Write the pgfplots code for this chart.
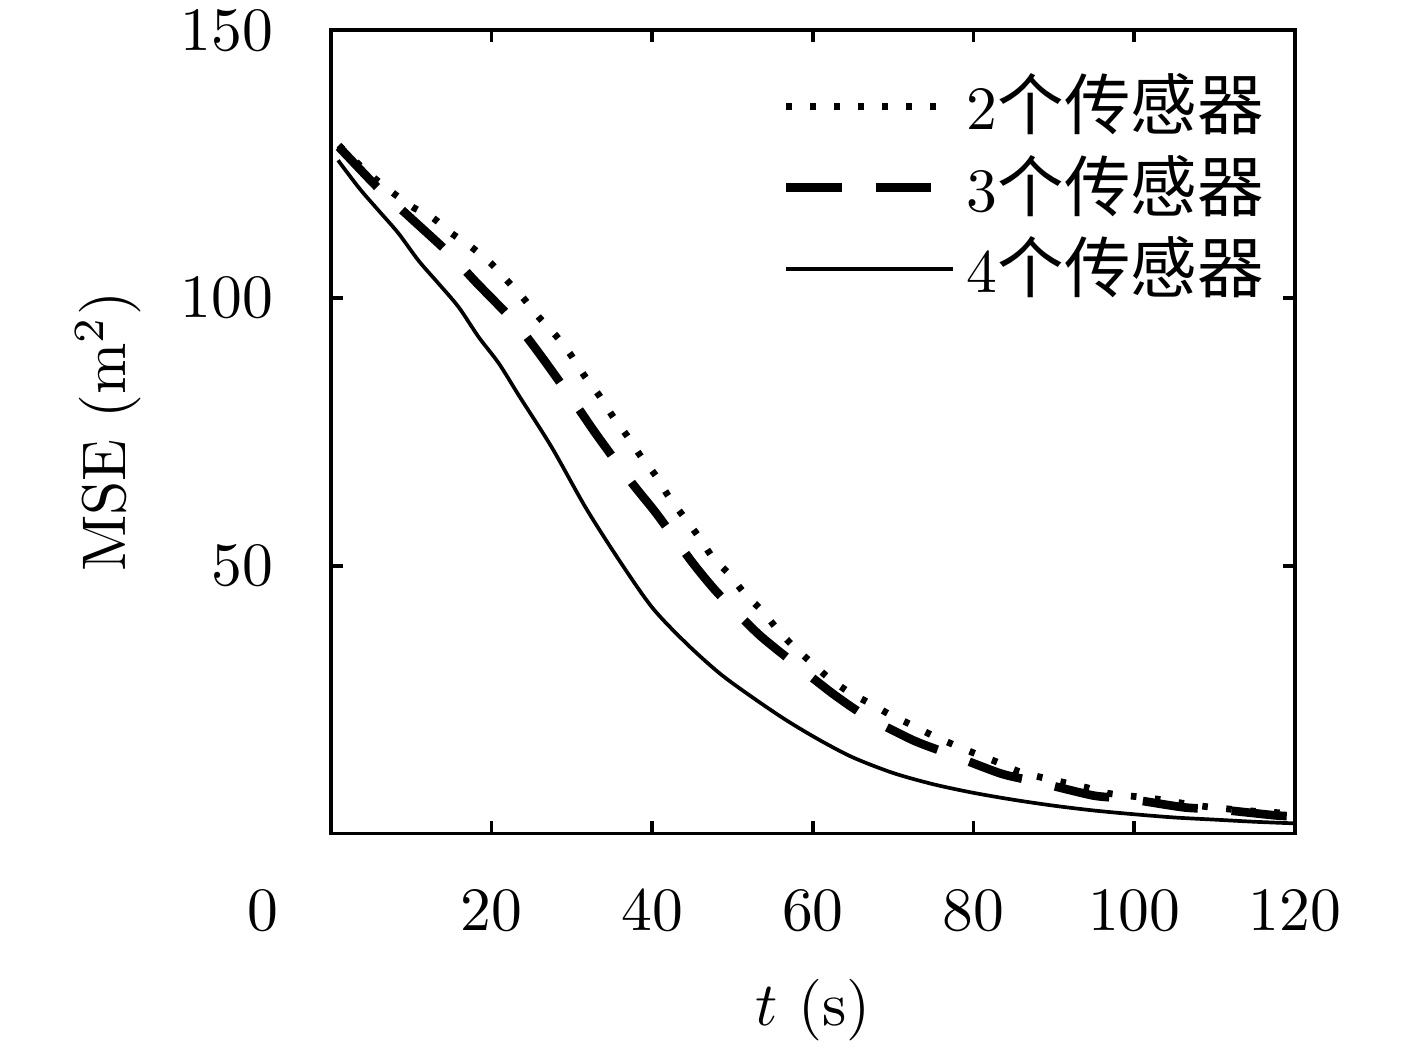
\documentclass[border=0pt]{standalone}
\usepackage{fontspec}
\usepackage{pgfplots}
\pgfplotsset{compat=1.18}
\newfontfamily\cjk[Scale=1.08]{Noto Sans CJK SC}
\begin{document}
\begin{tikzpicture}
\path[use as bounding box] (-53.7pt,-35.4pt) rectangle (176.3pt,135.3pt);
\begin{axis}[
 scale only axis, width=156.5pt, height=130.4pt,
 xmin=0,xmax=120,ymin=0,ymax=150,
 xtick={20,40,...,120}, ytick={50,100,150},
 extra x ticks={0},
 extra x tick style={major tick length=0pt, xticklabel style={xshift=-11pt}},
 tick align=inside, major tick length=2pt,
 axis line style={line width=0.6pt},
 every tick/.style={line width=0.6pt, black},
 yticklabel style={xshift=-5.8pt}, xticklabel style={yshift=-5.7pt},
 xlabel={$t$ (s)}, ylabel={MSE (m$^2$)},
 xlabel style={at={(axis description cs:0.5,-0.22)},anchor=center},
 ylabel style={at={(axis description cs:-0.231,0.5)},anchor=center},
 legend style={draw=none, fill=none, inner sep=0pt, at={(rel axis cs:0.979,0.955)}, anchor=north east,
   nodes={inner ysep=1pt, inner xsep=1.6pt}, row sep=0.6pt},
 legend cell align=left,
 legend image code/.code={\draw[#1] (0pt,0pt) -- (27pt,0pt);},
]
\addplot[black, line width=1.1pt, dash pattern=on 0.9pt off 3pt, smooth, tension=0.4] coordinates {
(1,128.5)(4.5,123.5)(7.75,119.6)(10.25,116.9)(12.75,114.9)(15,112.1)(17.5,109.5)(19.9,106.5)
(21.9,103.3)(24,99.9)(25.9,96.4)(28,93)(29.9,89.3)(31.5,85.6)(33.4,81.8)(35,78.1)(36.9,74.2)
(38.6,70.4)(40.5,66.7)(42.1,62.8)(44,59)(45.75,55.5)(47.5,51.6)(49.6,48.4)(51.5,44.8)(53.6,41.7)
(55.6,38.1)(57.6,34.9)(59.9,31.8)(62,29)(64.6,26.3)(67.1,24.3)(69.6,22.2)(72.4,20.2)(74.9,18.3)
(77.5,16.6)(80.25,14.9)(83,13.3)(85.6,11.6)(88.4,10.5)(94,8.6)(96.75,7.5)(102.5,6.5)(108,5.2)
(113.75,4.3)(120,3.7)};
\addlegendentry{2{\cjk 个传感器}}
\addplot[black, line width=1.4pt, dash pattern=on 9pt off 5.5pt, smooth, tension=0.4] coordinates {
(1,128.2)(5.9,120.5)(9.6,115.4)(14.6,108.5)(18.1,102.9)(23,95.3)(26.1,89.3)(30.3,80.5)
(33.1,74.4)(37.5,65.4)(40.5,59.8)(45,50.6)(48.1,45)(53.1,37.4)(56.9,32.7)(62.4,26.2)(66.5,22)
(72.5,17.4)(76.9,14.9)(83.4,11.2)(88,9.6)(94.9,7.1)(99.2,6.5)(106.1,4.9)(110.5,4.5)(117.5,3.4)(120,3.2)};
\addlegendentry{3{\cjk 个传感器}}
\addplot[black, line width=0.6pt, smooth, tension=0.5] coordinates {
(0.9,125.7)(2.1,123.3)(3.75,120.1)(5.9,116.4)(8.4,112.1)(10.9,107)(13.4,102.7)(15.9,98.3)
(18.4,92.7)(20.9,87.8)(23.4,81.8)(27.5,72.1)(31.7,60.9)(35.9,51)(40,42.2)(44.25,35.5)(48.4,29.9)
(52.5,25.4)(56.75,21.1)(60.9,17.4)(65,14.2)(70,11.3)(75,9.2)(80,7.6)(85,6.3)(90,5.2)(95,4.3)
(100,3.6)(105,3.0)(110,2.6)(115,2.2)(120,1.9)};
\addlegendentry{4{\cjk 个传感器}}
\end{axis}
\end{tikzpicture}
\end{document}
